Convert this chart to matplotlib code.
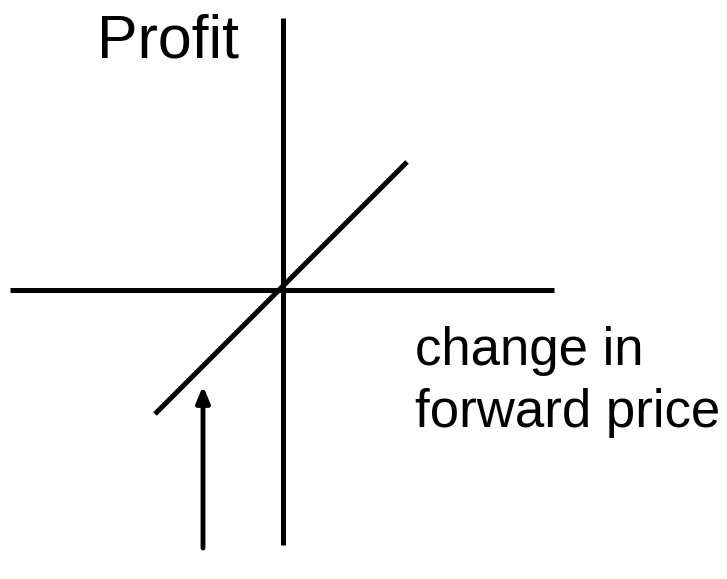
import matplotlib
matplotlib.use("Agg")
import matplotlib.pyplot as plt

# Diagram geometry (data units, origin at axes crossing, y up)
h_axis_x = [-273, 271]
h_axis_y = [0, 0]
v_axis_x = [0, 0]
v_axis_y = [-255, 272]
profit_x = [-128, 124]
profit_y = [-124, 128]
arrow_tail = (-80, -258)
arrow_tip = (-80, -96)
y_label = "Profit"
x_label_lines = ["change in", "forward price"]

fig = plt.figure(figsize=(7.27, 5.79), dpi=100)
ax = fig.add_axes([0, 0, 1, 1])
ax.set_xlim(-283, 444)
ax.set_ylim(-289, 290)
ax.axis("off")

lw = 3.6
ax.plot(h_axis_x, h_axis_y, color="black", lw=lw, solid_capstyle="butt")
ax.plot(v_axis_x, v_axis_y, color="black", lw=lw, solid_capstyle="butt")
ax.plot(profit_x, profit_y, color="black", lw=lw, solid_capstyle="butt")

ax.annotate("", xy=arrow_tip, xytext=arrow_tail,
            arrowprops=dict(arrowstyle="-|>,head_length=0.95,head_width=0.4",
                            color="black", lw=3.5, shrinkA=0, shrinkB=0))

font = "Liberation Sans"
ax.text(-186, 233, y_label, fontsize=43.8, family=font, ha="left", va="baseline")
ax.text(132, -75, x_label_lines[0], fontsize=38, family=font, ha="left", va="baseline")
ax.text(132, -137, x_label_lines[1], fontsize=38, family=font, ha="left", va="baseline")

fig.savefig("out.png", dpi=100, facecolor="white")
